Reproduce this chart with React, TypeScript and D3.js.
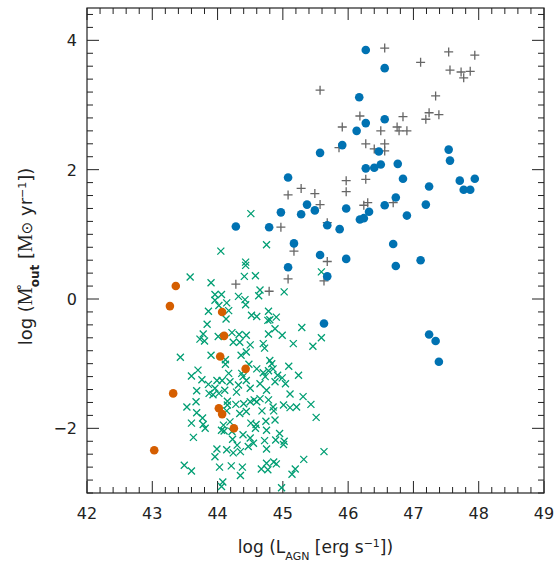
import * as d3 from "d3";

// [log L_AGN, log Mdot_out]
const blueCircles: [number, number][] = [
  [46.27, 3.85], [46.56, 3.57], [46.17, 3.12], [46.27, 2.72], [46.56, 2.78], [46.13, 2.6],
  [45.91, 2.38], [45.57, 2.26], [46.47, 2.28], [46.27, 2.02], [46.4, 2.03], [46.5, 2.08],
  [46.76, 2.09], [46.84, 1.86], [47.54, 2.31], [47.56, 2.14], [47.71, 1.83], [47.94, 1.86],
  [47.77, 1.69], [47.87, 1.69], [47.24, 1.74], [47.19, 1.46], [46.9, 1.29], [46.73, 1.57],
  [46.56, 1.45], [46.32, 1.35], [46.18, 1.23], [46.24, 1.25], [45.97, 1.4], [45.08, 1.88],
  [45.37, 1.46], [45.49, 1.37], [45.28, 1.31], [44.97, 1.34], [44.79, 1.11], [44.28, 1.12],
  [45.68, 1.14], [45.87, 1.08], [45.17, 0.86], [45.57, 0.68], [45.97, 0.62], [45.08, 0.49],
  [45.68, 0.35], [46.69, 0.85], [46.73, 0.51], [47.11, 0.6], [45.63, -0.38], [47.24, -0.55],
  [47.34, -0.65], [47.39, -0.97],
];

const grayPlus: [number, number][] = [
  [46.56, 3.88], [47.54, 3.82], [47.94, 3.77], [47.11, 3.66], [47.56, 3.54], [47.73, 3.51],
  [47.87, 3.52], [47.77, 3.42], [45.57, 3.23], [47.34, 3.14], [47.24, 2.88], [47.39, 2.85],
  [47.19, 2.78], [46.18, 2.83], [46.84, 2.82], [45.91, 2.66], [46.5, 2.6], [46.75, 2.66],
  [46.78, 2.6], [46.9, 2.6], [46.27, 2.4], [46.4, 2.32], [46.56, 2.4], [46.56, 2.29],
  [45.86, 2.34], [45.97, 1.83], [46.27, 1.85], [45.97, 1.66], [45.28, 1.71], [45.08, 1.61],
  [45.49, 1.63], [45.57, 1.46], [46.24, 1.45], [46.3, 1.49], [46.69, 1.49], [44.97, 1.11],
  [45.68, 1.18], [45.17, 0.74], [45.68, 0.58], [45.08, 0.31], [45.63, 0.28], [44.28, 0.23],
  [44.79, 0.12],
];

const orangeCircles: [number, number][] = [
  [43.36, 0.2], [43.27, -0.11], [44.07, -0.2], [44.1, -0.57], [44.04, -0.89], [44.43, -1.08],
  [43.32, -1.46], [44.02, -1.69], [44.07, -1.78], [44.25, -2.0], [43.03, -2.34],
];

const greenCross: [number, number][] = [
  [44.51, 1.32], [44.75, 0.84], [44.05, 0.74], [44.43, 0.57], [44.43, 0.52], [44.41, 0.35],
  [44.58, 0.36], [43.58, 0.34], [43.9, 0.25], [45.59, 0.42], [44.65, 0.14], [44.63, 0.05],
  [45.02, 0.11], [43.96, 0.07], [44.06, 0.07], [44.32, 0.04], [44.42, -0.01], [43.96, -0.02],
  [44.14, -0.06], [44.02, -0.1], [44.43, -0.09], [43.86, -0.19], [44.17, -0.18], [44.78, -0.19],
  [44.52, -0.25], [44.6, -0.27], [44.77, -0.33], [44.8, -0.32], [44.9, -0.28], [44.13, -0.31],
  [43.84, -0.39], [44.88, -0.46], [45.29, -0.44], [44.78, -0.54], [44.99, -0.56], [45.59, -0.6],
  [43.78, -0.54], [43.73, -0.62], [43.8, -0.65], [44.01, -0.58], [44.22, -0.52], [44.33, -0.55],
  [44.44, -0.56], [44.24, -0.67], [44.34, -0.67], [44.5, -0.71], [44.7, -0.69], [44.72, -0.76],
  [45.16, -0.69], [45.46, -0.73], [43.43, -0.9], [43.9, -0.87], [44.12, -0.94], [44.12, -1.01],
  [44.36, -0.87], [44.44, -0.82], [44.48, -1.01], [44.8, -0.95], [44.83, -1.0], [45.09, -1.04],
  [43.7, -1.1], [43.6, -1.19], [44.17, -1.15], [44.37, -1.15], [44.39, -1.2], [44.6, -1.08],
  [44.7, -1.14], [44.78, -1.11], [44.85, -1.08], [44.73, -1.2], [44.92, -1.18], [44.99, -1.22],
  [45.24, -1.18], [43.76, -1.25], [43.86, -1.32], [43.99, -1.26], [44.07, -1.26], [43.96, -1.38],
  [44.19, -1.28], [44.32, -1.33], [44.44, -1.26], [44.65, -1.31], [44.75, -1.41], [44.88, -1.28],
  [45.04, -1.31], [43.68, -1.42], [43.87, -1.46], [43.93, -1.48], [44.02, -1.46], [44.11, -1.41],
  [44.29, -1.44], [44.5, -1.38], [44.56, -1.56], [44.65, -1.54], [44.78, -1.56], [45.11, -1.47],
  [45.31, -1.51], [44.15, -1.58], [44.15, -1.64], [43.67, -1.59], [43.53, -1.67], [44.28, -1.63],
  [44.4, -1.62], [44.5, -1.59], [44.6, -1.59], [44.85, -1.67], [45.01, -1.64], [45.11, -1.68],
  [45.21, -1.67], [45.43, -1.63], [43.68, -1.76], [43.77, -1.84], [44.14, -1.73], [44.34, -1.77],
  [44.44, -1.74], [44.68, -1.73], [44.86, -1.73], [45.51, -1.83], [43.6, -1.92], [43.78, -1.94],
  [43.81, -2.0], [44.09, -1.95], [44.19, -1.9], [44.51, -1.92], [44.59, -1.94], [44.74, -1.89],
  [44.88, -1.87], [44.06, -2.03], [44.1, -2.04], [44.58, -2.0], [44.75, -2.03], [44.95, -2.08],
  [43.63, -2.14], [44.22, -2.05], [44.39, -2.1], [44.23, -2.17], [44.5, -2.15], [44.55, -2.23],
  [44.72, -2.19], [44.89, -2.18], [45.02, -2.2], [44.3, -2.26], [44.47, -2.28], [44.75, -2.32],
  [43.99, -2.32], [44.14, -2.33], [44.24, -2.38], [43.96, -2.44], [45.01, -2.25], [45.63, -2.36],
  [44.35, -2.36], [43.49, -2.57], [43.6, -2.66], [44.03, -2.6], [44.21, -2.58], [44.38, -2.6],
  [44.67, -2.63], [44.75, -2.54], [44.77, -2.64], [44.86, -2.52], [44.9, -2.55], [45.32, -2.48],
  [45.19, -2.63], [45.14, -2.71], [44.35, -2.73], [44.08, -2.83], [44.06, -2.9], [44.98, -2.92],
];

const xTicks = [42, 43, 44, 45, 46, 47, 48, 49];
const yTicks = [-2, 0, 2, 4];

const W = 554, H = 562;
const m = { left: 87, right: 10, top: 8, bottom: 69 };
const font = "DejaVu Sans, sans-serif";
const serif = "Liberation Serif, serif";

export default function App() {
  const x = d3.scaleLinear().domain([42, 49]).range([m.left, W - m.right]);
  const y = d3.scaleLinear().domain([-3, 4.5]).range([H - m.bottom, m.top]);
  const [x0, x1] = x.range();
  const [y0, y1] = [y(-3), y(4.5)];
  const xMinor = d3.range(42, 49.001, 0.2);
  const yMinor = d3.range(-3, 4.501, 0.2);
  const stroke = "#222";

  return (
    <svg width={W} height={H} style={{ position: "absolute", left: 0, top: 0, background: "#fff" }}>
      <rect x={x0} y={y1} width={x1 - x0} height={y0 - y1} fill="none" stroke={stroke} strokeWidth={1.2} />
      {xMinor.map((t, i) => {
        const major = xTicks.some((v) => Math.abs(v - t) < 1e-6);
        const len = major ? 12 : 6;
        return (
          <g key={"xm" + i}>
            <line x1={x(t)} x2={x(t)} y1={y0} y2={y0 - len} stroke={stroke} />
            <line x1={x(t)} x2={x(t)} y1={y1} y2={y1 + len} stroke={stroke} />
          </g>
        );
      })}
      {yMinor.map((t, i) => {
        const major = yTicks.some((v) => Math.abs(v - t) < 1e-6);
        const len = major ? 12 : 6;
        return (
          <g key={"ym" + i}>
            <line x1={x0} x2={x0 + len} y1={y(t)} y2={y(t)} stroke={stroke} />
            <line x1={x1} x2={x1 - len} y1={y(t)} y2={y(t)} stroke={stroke} />
          </g>
        );
      })}
      {xTicks.map((t) => (
        <text key={"xt" + t} x={x(t)} y={y0 + 26} textAnchor="middle" fontFamily={font} fontSize={16} fill={stroke}>
          {t}
        </text>
      ))}
      {yTicks.map((t) => (
        <text key={"yt" + t} x={x0 - 10} y={y(t) + 6} textAnchor="end" fontFamily={font} fontSize={16} fill={stroke}>
          {t === -2 ? "\u22122" : t}
        </text>
      ))}
      <text x={(x0 + x1) / 2} y={y0 + 60} textAnchor="middle" fontFamily={font} fontSize={17} fill={stroke}>
        log (L<tspan baselineShift="sub" fontSize={11}>AGN</tspan> [erg s<tspan baselineShift="super" fontSize={11}>−1</tspan>])
      </text>
      <text
        transform={`translate(32,${(y0 + y1) / 2 + 6}) rotate(-90)`}
        textAnchor="middle"
        fontFamily={font}
        fontSize={18}
        fill={stroke}
      >
        log (<tspan fontFamily={serif} fontSize={20}>M̊</tspan>
        <tspan baselineShift="sub" fontSize={12} fontWeight="bold">out</tspan>
        <tspan baselineShift="0"> [</tspan>
        <tspan fontFamily={serif} fontSize={20}>M</tspan>
        <tspan fontSize={15}>⊙</tspan> yr<tspan baselineShift="super" fontSize={11}>−1</tspan>
        <tspan baselineShift="0">])</tspan>
      </text>
      {greenCross.map(([a, b], i) => (
        <path
          key={"g" + i}
          d={`M${x(a) - 3.5},${y(b) - 3.5}L${x(a) + 3.5},${y(b) + 3.5}M${x(a) - 3.5},${y(b) + 3.5}L${x(a) + 3.5},${y(b) - 3.5}`}
          stroke="#009e73"
          strokeWidth={1.3}
        />
      ))}
      {grayPlus.map(([a, b], i) => (
        <path
          key={"p" + i}
          d={`M${x(a) - 4.5},${y(b)}H${x(a) + 4.5}M${x(a)},${y(b) - 4.5}V${y(b) + 4.5}`}
          stroke="#666"
          strokeWidth={1.3}
        />
      ))}
      {blueCircles.map(([a, b], i) => (
        <circle key={"b" + i} cx={x(a)} cy={y(b)} r={4.3} fill="#0072b2" />
      ))}
      {orangeCircles.map(([a, b], i) => (
        <circle key={"o" + i} cx={x(a)} cy={y(b)} r={4.3} fill="#d55e00" />
      ))}
    </svg>
  );
}
